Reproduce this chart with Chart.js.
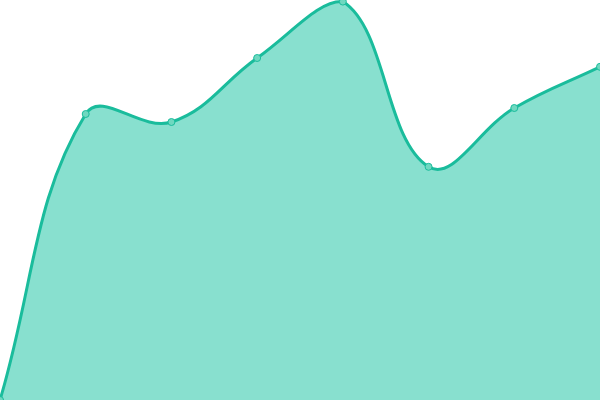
<!DOCTYPE html>
<html lang="en">
<head>
  <meta charset="UTF-8" />
  <title>Area</title>
  <script src="https://cdn.jsdelivr.net/npm/chart.js"></script>
  <style>
    html, body { margin: 0; padding: 0; background: #fff; }
    .wrap { width: 600px; height: 400px; }
  </style>
</head>
<body>
  <div class="wrap"><canvas id="areaChart"></canvas></div>
<script>
  const labels = ["1", "2", "3", "4", "5", "6", "7", "8"];
  const values = [0, 71.5, 69.5, 85.5, 99.6, 58.3, 73, 83.3];

  new Chart(document.getElementById("areaChart"), {
    type: "line",
    data: {
      labels: labels,
      datasets: [{
        data: values,
        borderColor: "#1abc9c",
        backgroundColor: "#88e0cf",
        pointBackgroundColor: "#6fd8c0",
        pointBorderColor: "#1abc9c",
        pointRadius: 3.5,
        pointBorderWidth: 1,
        borderWidth: 3,
        fill: true,
        tension: 0.4
      }]
    },
    options: {
      responsive: true,
      maintainAspectRatio: false,
      animation: false,
      layout: { padding: 0, autoPadding: false },
      plugins: { legend: { display: false }, tooltip: { enabled: false } },
      scales: {
        x: { display: false, offset: false },
        y: { display: false, min: 0, max: 100 }
      }
    }
  });
</script>
</body>
</html>
